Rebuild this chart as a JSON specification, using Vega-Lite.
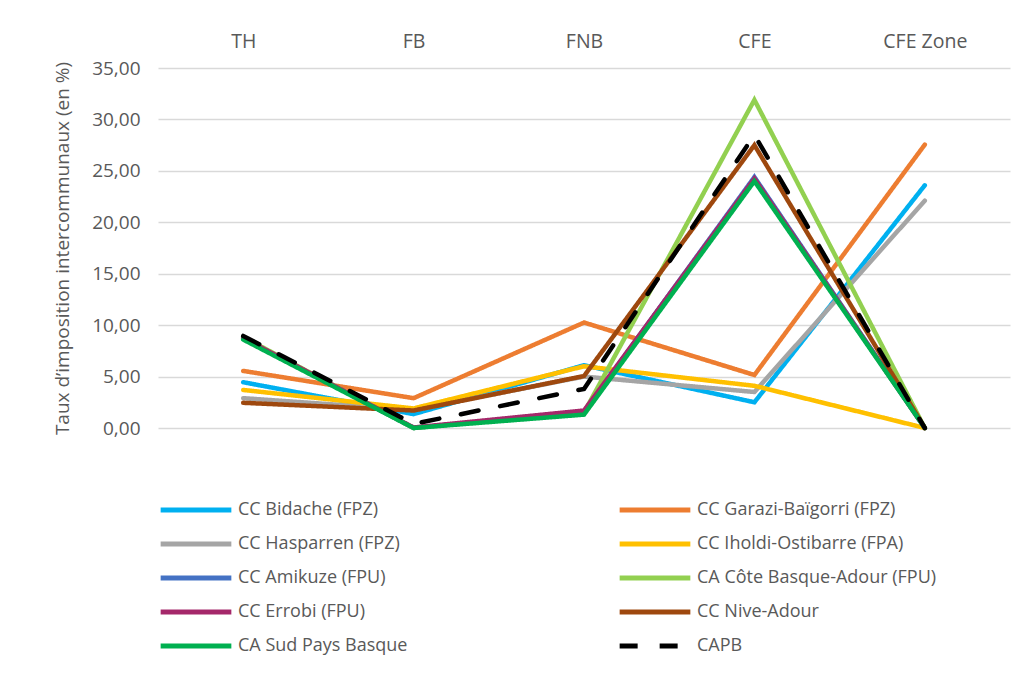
{
  "$schema": "https://vega.github.io/schema/vega-lite/v6.json",
  "autosize": {"type": "none"},
  "width": 852,
  "height": 360,
  "padding": {"left": 158, "top": 68, "right": 15, "bottom": 245},
  "background": "white",
  "config": {
    "view": {"stroke": null},
    "font": "Open Sans",
    "axis": {"labelFont": "Open Sans", "titleFont": "Open Sans", "labelColor": "#595959", "titleColor": "#595959"},
    "legend": {"labelFont": "Open Sans", "labelColor": "#595959"}
  },
  "data": {
    "values": [
      {"serie": "CC Bidache (FPZ)", "taxe": "TH", "v": 4.45},
      {"serie": "CC Bidache (FPZ)", "taxe": "FB", "v": 1.35},
      {"serie": "CC Bidache (FPZ)", "taxe": "FNB", "v": 6.1},
      {"serie": "CC Bidache (FPZ)", "taxe": "CFE", "v": 2.5},
      {"serie": "CC Bidache (FPZ)", "taxe": "CFE Zone", "v": 23.6},
      {"serie": "CC Garazi-Baïgorri (FPZ)", "taxe": "TH", "v": 5.55},
      {"serie": "CC Garazi-Baïgorri (FPZ)", "taxe": "FB", "v": 2.9},
      {"serie": "CC Garazi-Baïgorri (FPZ)", "taxe": "FNB", "v": 10.25},
      {"serie": "CC Garazi-Baïgorri (FPZ)", "taxe": "CFE", "v": 5.15},
      {"serie": "CC Garazi-Baïgorri (FPZ)", "taxe": "CFE Zone", "v": 27.55},
      {"serie": "CC Hasparren (FPZ)", "taxe": "TH", "v": 2.9},
      {"serie": "CC Hasparren (FPZ)", "taxe": "FB", "v": 1.75},
      {"serie": "CC Hasparren (FPZ)", "taxe": "FNB", "v": 5.0},
      {"serie": "CC Hasparren (FPZ)", "taxe": "CFE", "v": 3.5},
      {"serie": "CC Hasparren (FPZ)", "taxe": "CFE Zone", "v": 22.1},
      {"serie": "CC Iholdi-Ostibarre (FPA)", "taxe": "TH", "v": 3.7},
      {"serie": "CC Iholdi-Ostibarre (FPA)", "taxe": "FB", "v": 1.9},
      {"serie": "CC Iholdi-Ostibarre (FPA)", "taxe": "FNB", "v": 6.0},
      {"serie": "CC Iholdi-Ostibarre (FPA)", "taxe": "CFE", "v": 4.1},
      {"serie": "CC Iholdi-Ostibarre (FPA)", "taxe": "CFE Zone", "v": 0.0},
      {"serie": "CC Amikuze (FPU)", "taxe": "TH", "v": 8.75},
      {"serie": "CC Amikuze (FPU)", "taxe": "FB", "v": 0.0},
      {"serie": "CC Amikuze (FPU)", "taxe": "FNB", "v": 1.6},
      {"serie": "CC Amikuze (FPU)", "taxe": "CFE", "v": 24.4},
      {"serie": "CC Amikuze (FPU)", "taxe": "CFE Zone", "v": 0.0},
      {"serie": "CA Côte Basque-Adour (FPU)", "taxe": "TH", "v": 8.85},
      {"serie": "CA Côte Basque-Adour (FPU)", "taxe": "FB", "v": 0.0},
      {"serie": "CA Côte Basque-Adour (FPU)", "taxe": "FNB", "v": 1.5},
      {"serie": "CA Côte Basque-Adour (FPU)", "taxe": "CFE", "v": 31.9},
      {"serie": "CA Côte Basque-Adour (FPU)", "taxe": "CFE Zone", "v": 0.0},
      {"serie": "CC Errobi (FPU)", "taxe": "TH", "v": 8.75},
      {"serie": "CC Errobi (FPU)", "taxe": "FB", "v": 0.05},
      {"serie": "CC Errobi (FPU)", "taxe": "FNB", "v": 1.7},
      {"serie": "CC Errobi (FPU)", "taxe": "CFE", "v": 24.25},
      {"serie": "CC Errobi (FPU)", "taxe": "CFE Zone", "v": 0.0},
      {"serie": "CC Nive-Adour", "taxe": "TH", "v": 2.45},
      {"serie": "CC Nive-Adour", "taxe": "FB", "v": 1.7},
      {"serie": "CC Nive-Adour", "taxe": "FNB", "v": 5.05},
      {"serie": "CC Nive-Adour", "taxe": "CFE", "v": 27.5},
      {"serie": "CC Nive-Adour", "taxe": "CFE Zone", "v": 0.0},
      {"serie": "CA Sud Pays Basque", "taxe": "TH", "v": 8.6},
      {"serie": "CA Sud Pays Basque", "taxe": "FB", "v": 0.0},
      {"serie": "CA Sud Pays Basque", "taxe": "FNB", "v": 1.3},
      {"serie": "CA Sud Pays Basque", "taxe": "CFE", "v": 24.0},
      {"serie": "CA Sud Pays Basque", "taxe": "CFE Zone", "v": 0.0},
      {"serie": "CAPB", "taxe": "TH", "v": 8.95},
      {"serie": "CAPB", "taxe": "FB", "v": 0.4},
      {"serie": "CAPB", "taxe": "FNB", "v": 3.8},
      {"serie": "CAPB", "taxe": "CFE", "v": 28.5},
      {"serie": "CAPB", "taxe": "CFE Zone", "v": 0.0}
    ]
  },
  "mark": {"type": "line", "strokeWidth": 4.5, "strokeCap": "round", "strokeJoin": "miter"},
  "encoding": {
    "x": {
      "field": "taxe", "type": "ordinal",
      "sort": ["TH", "FB", "FNB", "CFE", "CFE Zone"],
      "scale": {"type": "point", "padding": 0.5},
      "axis": {"orient": "top", "title": null, "labelAngle": 0, "domain": false, "ticks": false, "grid": false, "labelFontSize": 19.5, "labelPadding": 17}
    },
    "y": {
      "field": "v", "type": "quantitative",
      "scale": {"domain": [0, 35], "nice": false},
      "axis": {
        "title": "Taux d’imposition intercommunaux (en %)",
        "titleFontSize": 19, "titleFontWeight": "normal", "titlePadding": 19,
        "values": [0, 5, 10, 15, 20, 25, 30, 35],
        "labelExpr": "replace(format(datum.value, '.2f'), '.', ',')",
        "labelFontSize": 19, "labelPadding": 18,
        "domain": false, "ticks": false,
        "grid": true, "gridColor": "#d9d9d9", "gridWidth": 1.3
      }
    },
    "color": {
      "field": "serie", "type": "nominal",
      "scale": {
        "domain": ["CC Bidache (FPZ)", "CC Hasparren (FPZ)", "CC Amikuze (FPU)", "CC Errobi (FPU)", "CA Sud Pays Basque", "CC Garazi-Baïgorri (FPZ)", "CC Iholdi-Ostibarre (FPA)", "CA Côte Basque-Adour (FPU)", "CC Nive-Adour", "CAPB"],
        "range": ["#00B0F0", "#A5A5A5", "#4472C4", "#A5286A", "#00B050", "#ED7D31", "#FFC000", "#92D050", "#9E480E", "#000000"]
      },
      "legend": {
        "title": null, "orient": "none", "legendX": 0, "legendY": 432,
        "columns": 2, "columnPadding": 209, "rowPadding": 14, "clipHeight": 20,
        "symbolType": "stroke", "symbolSize": 5000, "symbolStrokeWidth": 5,
        "labelFontSize": 18, "labelOffset": 4, "labelLimit": 400
      }
    },
    "strokeDash": {
      "field": "serie", "type": "nominal",
      "scale": {
        "domain": ["CC Bidache (FPZ)", "CC Hasparren (FPZ)", "CC Amikuze (FPU)", "CC Errobi (FPU)", "CA Sud Pays Basque", "CC Garazi-Baïgorri (FPZ)", "CC Iholdi-Ostibarre (FPA)", "CA Côte Basque-Adour (FPU)", "CC Nive-Adour", "CAPB"],
        "range": [[1, 0], [1, 0], [1, 0], [1, 0], [1, 0], [1, 0], [1, 0], [1, 0], [1, 0], [18, 22]]
      },
      "legend": {
        "title": null, "orient": "none", "legendX": 0, "legendY": 432,
        "columns": 2, "columnPadding": 209, "rowPadding": 14, "clipHeight": 20,
        "symbolType": "stroke", "symbolSize": 5000, "symbolStrokeWidth": 5,
        "labelFontSize": 18, "labelOffset": 4, "labelLimit": 400
      }
    }
  }
}
